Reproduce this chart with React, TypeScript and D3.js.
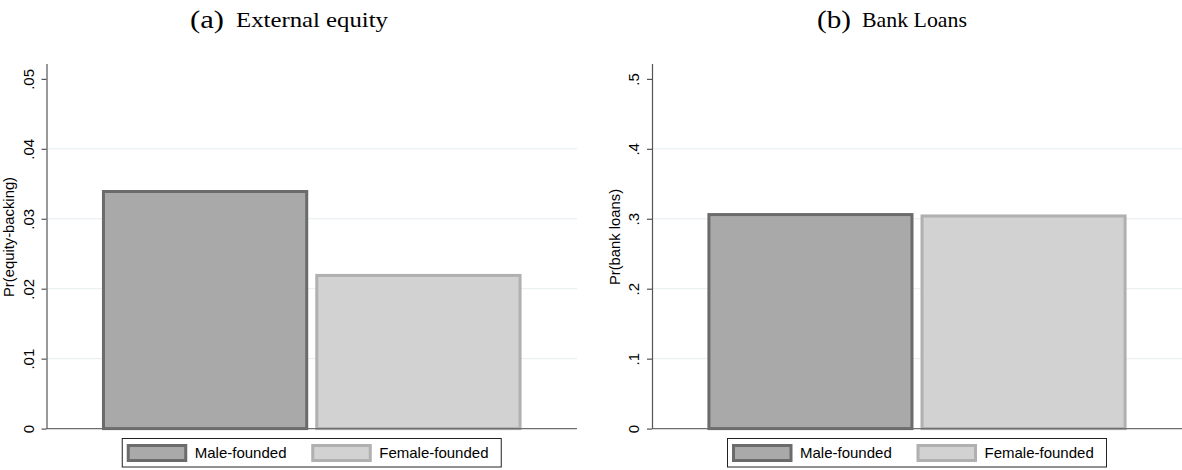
import React, { useEffect, useRef } from "react";
import * as d3 from "d3";

const groups = ["Male-founded", "Female-founded"];
const equityValues = [0.0339, 0.0219];
const loanValues = [0.306, 0.304];
const equityTicks = [0, 0.01, 0.02, 0.03, 0.04, 0.05];
const equityTickLabels = ["0", ".01", ".02", ".03", ".04", ".05"];
const loanTicks = [0, 0.1, 0.2, 0.3, 0.4, 0.5];
const loanTickLabels = ["0", ".1", ".2", ".3", ".4", ".5"];

const fills = ["#a9a9a9", "#d2d2d2"];
const strokes = ["#6b6b6b", "#b0b0b0"];
const SANS = "'Liberation Sans', Arial, sans-serif";
const SERIF = "'Liberation Serif', 'DejaVu Serif', serif";

export default function App() {
  const ref = useRef<SVGSVGElement>(null);

  useEffect(() => {
    const svg = d3.select(ref.current);
    svg.selectAll("*").remove();

    const panels = [
      {
        left: 46.5, right: 577, values: equityValues, ticks: equityTicks, labels: equityTickLabels,
        max: 0.0522, ytitle: "Pr(equity-backing)", titleX: 14,
        tag: "(a)", tagX: 190, title: "External equity", titleStart: 236, titleLen: 152,
      },
      {
        left: 652, right: 1182, values: loanValues, ticks: loanTicks, labels: loanTickLabels,
        max: 0.522, ytitle: "Pr(bank loans)", titleX: 620,
        tag: "(b)", tagX: 817, title: "Bank Loans", titleStart: 862, titleLen: 105,
      },
    ];

    const y0 = 428.6;
    const yTop = 63.5;

    panels.forEach((p) => {
      const g = svg.append("g");
      const y = d3.scaleLinear().domain([0, p.max]).range([y0, yTop]);
      const x = d3
        .scaleBand()
        .domain(groups)
        .range([p.left, p.right])
        .paddingInner(0.033)
        .paddingOuter(0.26);

      // panel title
      g.append("text")
        .attr("x", p.tagX)
        .attr("y", 28)
        .attr("font-family", SERIF)
        .attr("font-size", 26)
        .attr("textLength", 34)
        .attr("lengthAdjust", "spacingAndGlyphs")
        .text(p.tag);
      g.append("text")
        .attr("x", p.titleStart)
        .attr("y", 27)
        .attr("font-family", SERIF)
        .attr("font-size", 21)
        .attr("textLength", p.titleLen)
        .attr("lengthAdjust", "spacingAndGlyphs")
        .text(p.title);

      // gridlines
      g.selectAll(".grid")
        .data(p.ticks.slice(1, -1))
        .enter()
        .append("line")
        .attr("x1", p.left)
        .attr("x2", p.right)
        .attr("y1", (d) => y(d))
        .attr("y2", (d) => y(d))
        .attr("stroke", "#e6eef0")
        .attr("stroke-width", 1);

      // bars
      g.selectAll(".bar")
        .data(p.values)
        .enter()
        .append("rect")
        .attr("x", (d, i) => x(groups[i])! + 1.5)
        .attr("y", (d) => y(d))
        .attr("width", x.bandwidth() - 3)
        .attr("height", (d) => y0 - y(d))
        .attr("fill", (d, i) => fills[i])
        .attr("stroke", (d, i) => strokes[i])
        .attr("stroke-width", 3);

      // bottom line
      g.append("line")
        .attr("x1", p.left)
        .attr("x2", p.right)
        .attr("y1", y0)
        .attr("y2", y0)
        .attr("stroke", "#6e6e6e")
        .attr("stroke-width", 1.3);

      // y axis
      const axis = g
        .append("g")
        .attr("transform", `translate(${p.left},0)`)
        .call(
          d3
            .axisLeft(y)
            .tickValues(p.ticks)
            .tickFormat((d, i) => p.labels[i])
            .tickSize(5)
            .tickSizeOuter(0)
        );
      axis.select(".domain").attr("stroke", "#555").attr("stroke-width", 1.2);
      axis.selectAll(".tick line").attr("stroke", "#555").attr("stroke-width", 1.2);
      axis
        .selectAll(".tick text")
        .attr("x", null)
        .attr("dy", null)
        .attr("transform", "translate(-13,0) rotate(-90)")
        .attr("text-anchor", "middle")
        .attr("fill", "#000")
        .attr("font-family", SANS)
        .attr("font-size", 15);

      g.append("text")
        .attr("transform", `translate(${p.titleX},237) rotate(-90)`)
        .attr("text-anchor", "middle")
        .attr("font-family", SANS)
        .attr("font-size", 14.8)
        .text(p.ytitle);

      // legend
      const cx = (p.left + p.right) / 2;
      const lg = g.append("g").attr("transform", `translate(${cx - 190},438)`);
      lg.append("rect")
        .attr("x", 0.5)
        .attr("y", 0.5)
        .attr("width", 379)
        .attr("height", 28.5)
        .attr("fill", "#fff")
        .attr("stroke", "#222")
        .attr("stroke-width", 1);
      const keyX = [5, 189.5];
      groups.forEach((name, i) => {
        lg.append("rect")
          .attr("x", keyX[i] + 1.5)
          .attr("y", 7.5)
          .attr("width", 57.5)
          .attr("height", 15)
          .attr("fill", fills[i])
          .attr("stroke", strokes[i])
          .attr("stroke-width", 3);
        lg.append("text")
          .attr("x", keyX[i] + 68)
          .attr("y", 20)
          .attr("font-family", SANS)
          .attr("font-size", 15)
          .attr("fill", "#000")
          .text(name);
      });
    });
  }, []);

  return (
    <svg
      ref={ref}
      width={1182}
      height={470}
      style={{ position: "absolute", left: 0, top: 0, background: "#fff" }}
    />
  );
}
